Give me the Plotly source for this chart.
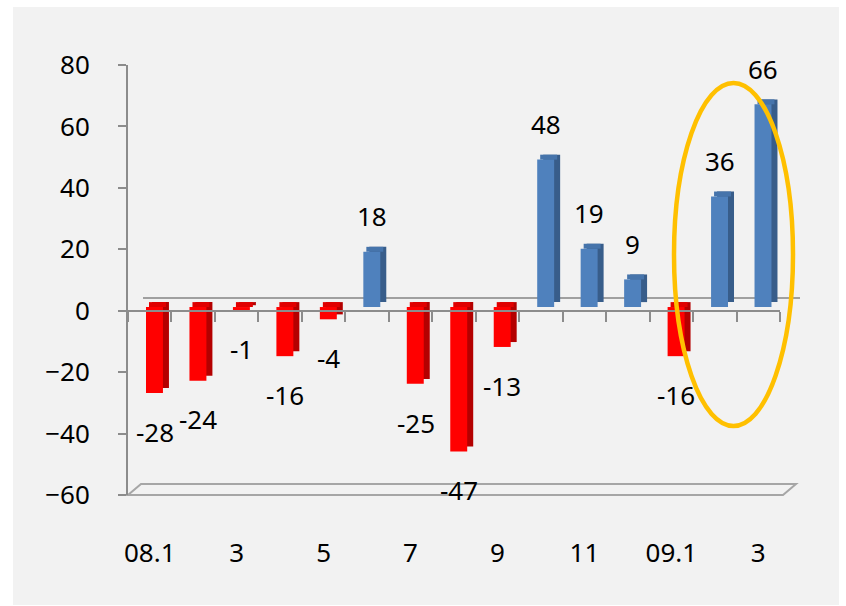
import plotly.graph_objects as go

# ---------------- data ----------------
months = ["08.1", "2", "3", "4", "5", "6", "7", "8", "9", "10", "11", "12", "09.1", "2", "3"]
values = [-28, -24, -1, -16, -4, 18, -25, -47, -13, 48, 19, 9, -16, 36, 66]
tick_labels = ["08.1", "3", "5", "7", "9", "11", "09.1", "3"]
y_ticks = [-60, -40, -20, 0, 20, 40, 60, 80]

# ---------------- style ----------------
W, H = 846, 606
L, T, PW, PH = 128, 65, 652, 430
FONT = dict(family="Noto Sans, Open Sans, sans-serif", size=26, color="#000000")
RED = ("#ff0000", "#b40000", "#e00000")     # front, side, top
BLUE = ("#4f81bd", "#385d8a", "#4674ab")
B0, DZ = 1.2, 1.6          # front-face zero lift, depth (value units)
BW, OFF, DX = 0.39, -0.086, 0.138

xs = list(range(len(values)))
front_c = [RED[0] if v < 0 else BLUE[0] for v in values]
side_c = [RED[1] if v < 0 else BLUE[1] for v in values]
top_c = [RED[2] if v < 0 else BLUE[2] for v in values]

fig = go.Figure()
# side (depth) faces
fig.add_trace(go.Bar(x=xs, y=values, base=[B0 + DZ] * len(values), width=BW, offset=OFF + DX,
                     marker=dict(color=side_c, line=dict(width=0)), hoverinfo="skip", showlegend=False))
# top faces
fig.add_trace(go.Bar(x=xs, y=[DZ] * len(values), base=[B0 + max(v, 0) for v in values], width=BW,
                     offset=OFF + DX / 2, marker=dict(color=top_c, line=dict(width=0)),
                     hoverinfo="skip", showlegend=False))
# front faces
fig.add_trace(go.Bar(x=xs, y=values, base=[B0] * len(values), width=BW, offset=OFF,
                     marker=dict(color=front_c, line=dict(width=0)), showlegend=False))
# invisible trace carrying the zero axis (xaxis2)
fig.add_trace(go.Scatter(x=[0], y=[0], xaxis="x2", mode="markers", marker=dict(opacity=0),
                         hoverinfo="skip", showlegend=False))

# data labels
for i, v in enumerate(values):
    fig.add_annotation(x=i, y=v, xref="x", yref="y", text=str(v), showarrow=False,
                       xshift=5, yshift=(39 if v > 0 else -35), font=FONT)


def xp(px):
    return (px - L) / PW


def yp(py):
    return (T + PH - py) / PH


shapes = [
    # grey panel
    dict(type="rect", xref="paper", yref="paper", x0=xp(13), x1=xp(839), y0=yp(605), y1=yp(7),
         fillcolor="#f2f2f2", line=dict(width=0), layer="below"),
    # back zero line
    dict(type="line", xref="paper", yref="paper", x0=xp(143), x1=xp(800), y0=yp(298), y1=yp(298),
         line=dict(color="#a0a0a0", width=2), layer="below"),
    # floor
    dict(type="path", xref="paper", yref="paper",
         path=f"M {xp(128)},{yp(495)} L {xp(783)},{yp(495)} L {xp(796)},{yp(484)} L {xp(141)},{yp(484)} Z",
         line=dict(color="#a6a6a6", width=2), layer="below"),
    # highlight ellipse
    dict(type="circle", xref="paper", yref="paper", x0=xp(674), x1=xp(793), y0=yp(426), y1=yp(83),
         line=dict(color="#ffc000", width=4.5), layer="above"),
]

fig.update_layout(
    width=W, height=H,
    margin=dict(l=L, r=W - L - PW, t=T, b=H - T - PH, pad=0),
    paper_bgcolor="#ffffff", plot_bgcolor="rgba(0,0,0,0)",
    barmode="overlay", font=FONT, shapes=shapes, showlegend=False,
    xaxis=dict(range=[-0.5, len(values) - 0.5], tickvals=[0, 2, 4, 6, 8, 10, 12, 14],
               ticktext=tick_labels, showline=False, showgrid=False, zeroline=False,
               ticks="", ticklabelstandoff=40, tickfont=FONT),
    xaxis2=dict(range=[-0.5, len(values) - 0.5], overlaying="x", anchor="free",
                position=60 / 140, side="bottom", showline=True, linecolor="#8c8c8c", linewidth=2,
                ticks="outside", ticklen=10, tickwidth=2, tickcolor="#8c8c8c",
                tickvals=[k - 0.5 for k in range(len(values) + 1)],
                showticklabels=False, showgrid=False, zeroline=False),
    yaxis=dict(range=[-60, 80], tickvals=y_ticks, showline=True, linecolor="#8c8c8c", linewidth=2,
               ticks="outside", ticklen=8, tickwidth=2, tickcolor="#8c8c8c",
               showgrid=False, zeroline=False, ticklabelstandoff=23, tickfont=FONT),
)

fig.write_html("out.html")
